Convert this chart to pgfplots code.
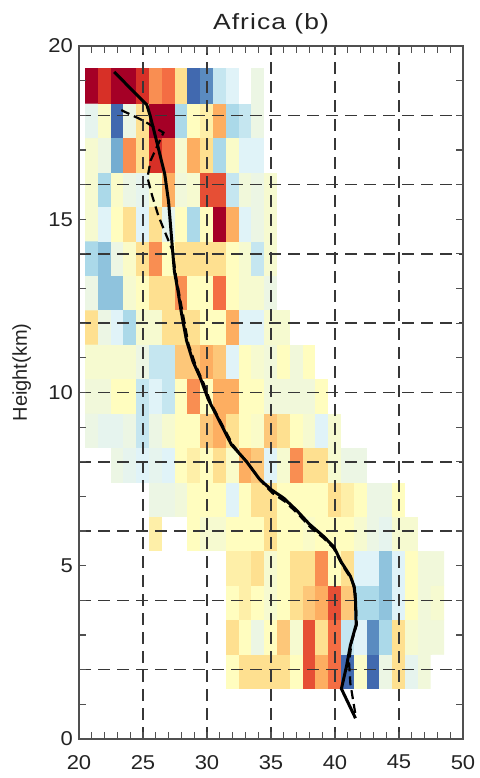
\documentclass[border=0pt]{standalone}
\usepackage{fontspec}
\setmainfont{Liberation Sans}[FakeStretch=1.1]
\newfontfamily\plainsans{Liberation Sans}
\newfontfamily\titlefont{Liberation Sans}[FakeStretch=1.2,LetterSpace=5]
\usepackage{pgfplots}
\usepackage{pgfplotstable}
\pgfplotsset{compat=1.18}
\pgfplotsset{
  colormap={idl}{rgb255=(255,255,255) rgb255=(65,105,175) rgb255=(116,173,209) rgb255=(171,217,233) rgb255=(224,243,248) rgb255=(236,246,228) rgb255=(246,250,208) rgb255=(255,253,191) rgb255=(254,224,144) rgb255=(253,174,97) rgb255=(244,109,67) rgb255=(215,48,39) rgb255=(165,0,38)}
}
\definecolor{axcol}{RGB}{80,80,80}
\definecolor{gridcol}{RGB}{55,55,55}
\definecolor{txtcol}{RGB}{35,35,35}
\pgfplotstableread[row sep=\\]{
x y c\\
21 1.95 0\\ 22 1.95 0\\ 23 1.95 0\\ 24 1.95 0\\ 25 1.95 0\\ 26 1.95 0\\ 27 1.95 0\\ 28 1.95 0\\ 29 1.95 0\\ 30 1.95 0\\ 31 1.95 0\\ 32 1.95 7\\ 33 1.95 8\\ 34 1.95 8\\ 35 1.95 8\\ 36 1.95 8\\ 37 1.95 7\\ 38 1.95 10.5\\ 39 1.95 9\\ 40 1.95 10\\ 41 1.95 1\\ 42 1.95 6.5\\ 43 1.95 1\\ 44 1.95 5\\ 45 1.95 8\\ 46 1.95 4.5\\ 47 1.95 5.5\\ 48 1.95 0\\
21 2.94 0\\ 22 2.94 0\\ 23 2.94 0\\ 24 2.94 0\\ 25 2.94 0\\ 26 2.94 0\\ 27 2.94 0\\ 28 2.94 0\\ 29 2.94 0\\ 30 2.94 0\\ 31 2.94 0\\ 32 2.94 8\\ 33 2.94 7\\ 34 2.94 5\\ 35 2.94 7\\ 36 2.94 8.5\\ 37 2.94 6\\ 38 2.94 10.5\\ 39 2.94 8\\ 40 2.94 10\\ 41 2.94 3.5\\ 42 2.94 4\\ 43 2.94 1.5\\ 44 2.94 3\\ 45 2.94 8\\ 46 2.94 6\\ 47 2.94 5.5\\ 48 2.94 5.5\\
21 3.94 0\\ 22 3.94 0\\ 23 3.94 0\\ 24 3.94 0\\ 25 3.94 0\\ 26 3.94 0\\ 27 3.94 0\\ 28 3.94 0\\ 29 3.94 0\\ 30 3.94 0\\ 31 3.94 0\\ 32 3.94 7\\ 33 3.94 7.5\\ 34 3.94 7\\ 35 3.94 6\\ 36 3.94 7\\ 37 3.94 8\\ 38 3.94 8.5\\ 39 3.94 9\\ 40 3.94 10.5\\ 41 3.94 8.5\\ 42 3.94 3\\ 43 3.94 3\\ 44 3.94 2.5\\ 45 3.94 4\\ 46 3.94 7\\ 47 3.94 5.5\\ 48 3.94 6\\
21 4.93 0\\ 22 4.93 0\\ 23 4.93 0\\ 24 4.93 0\\ 25 4.93 0\\ 26 4.93 0\\ 27 4.93 0\\ 28 4.93 0\\ 29 4.93 0\\ 30 4.93 0\\ 31 4.93 0\\ 32 4.93 7.5\\ 33 4.93 7.5\\ 34 4.93 8\\ 35 4.93 6\\ 36 4.93 7\\ 37 4.93 8\\ 38 4.93 8\\ 39 4.93 9.5\\ 40 4.93 7\\ 41 4.93 8\\ 42 4.93 4\\ 43 4.93 4\\ 44 4.93 2.5\\ 45 4.93 4\\ 46 4.93 7\\ 47 4.93 5.5\\ 48 4.93 5.5\\
21 5.93 0\\ 22 5.93 0\\ 23 5.93 0\\ 24 5.93 0\\ 25 5.93 0\\ 26 5.93 7.5\\ 27 5.93 0\\ 28 5.93 0\\ 29 5.93 7\\ 30 5.93 6\\ 31 5.93 6\\ 32 5.93 7\\ 33 5.93 7\\ 34 5.93 7\\ 35 5.93 8\\ 36 5.93 7\\ 37 5.93 7\\ 38 5.93 6.5\\ 39 5.93 7\\ 40 5.93 7\\ 41 5.93 7\\ 42 5.93 6\\ 43 5.93 5\\ 44 5.93 4.5\\ 45 5.93 6\\ 46 5.93 6\\ 47 5.93 0\\ 48 5.93 0\\
21 6.92 0\\ 22 6.92 0\\ 23 6.92 0\\ 24 6.92 0\\ 25 6.92 0\\ 26 6.92 5\\ 27 6.92 5\\ 28 6.92 5.5\\ 29 6.92 7\\ 30 6.92 7\\ 31 6.92 7\\ 32 6.92 4\\ 33 6.92 7\\ 34 6.92 8\\ 35 6.92 8\\ 36 6.92 7\\ 37 6.92 7\\ 38 6.92 7\\ 39 6.92 7\\ 40 6.92 8\\ 41 6.92 7.5\\ 42 6.92 7\\ 43 6.92 5\\ 44 6.92 5\\ 45 6.92 7\\ 46 6.92 0\\ 47 6.92 0\\ 48 6.92 0\\
21 7.91 0\\ 22 7.91 0\\ 23 7.91 5\\ 24 7.91 4.5\\ 25 7.91 4\\ 26 7.91 4.5\\ 27 7.91 4\\ 28 7.91 7\\ 29 7.91 7.5\\ 30 7.91 7\\ 31 7.91 8\\ 32 7.91 6.5\\ 33 7.91 9\\ 34 7.91 8.5\\ 35 7.91 4\\ 36 7.91 6\\ 37 7.91 9.5\\ 38 7.91 8\\ 39 7.91 8\\ 40 7.91 6\\ 41 7.91 5\\ 42 7.91 5\\ 43 7.91 0\\ 44 7.91 0\\ 45 7.91 0\\ 46 7.91 0\\ 47 7.91 0\\ 48 7.91 0\\
21 8.91 5\\ 22 8.91 4.5\\ 23 8.91 4.5\\ 24 8.91 5\\ 25 8.91 3.5\\ 26 8.91 5\\ 27 8.91 6\\ 28 8.91 7\\ 29 8.91 7\\ 30 8.91 8.5\\ 31 8.91 9\\ 32 8.91 8\\ 33 8.91 7\\ 34 8.91 6.5\\ 35 8.91 8.5\\ 36 8.91 8\\ 37 8.91 7\\ 38 8.91 6\\ 39 8.91 4\\ 40 8.91 6\\ 41 8.91 0\\ 42 8.91 0\\ 43 8.91 0\\ 44 8.91 0\\ 45 8.91 0\\ 46 8.91 0\\ 47 8.91 0\\ 48 8.91 0\\
21 9.90 5.5\\ 22 9.90 5.5\\ 23 9.90 7\\ 24 9.90 7\\ 25 9.90 3.5\\ 26 9.90 4\\ 27 9.90 3.5\\ 28 9.90 7\\ 29 9.90 9.5\\ 30 9.90 7\\ 31 9.90 9\\ 32 9.90 9\\ 33 9.90 7\\ 34 9.90 7\\ 35 9.90 5.5\\ 36 9.90 5.5\\ 37 9.90 5.5\\ 38 9.90 5.5\\ 39 9.90 7\\ 40 9.90 0\\ 41 9.90 0\\ 42 9.90 0\\ 43 9.90 0\\ 44 9.90 0\\ 45 9.90 0\\ 46 9.90 0\\ 47 9.90 0\\ 48 9.90 0\\
21 10.90 6\\ 22 10.90 6\\ 23 10.90 6\\ 24 10.90 6\\ 25 10.90 5\\ 26 10.90 3.5\\ 27 10.90 3.5\\ 28 10.90 8.5\\ 29 10.90 8.5\\ 30 10.90 9\\ 31 10.90 8.5\\ 32 10.90 4\\ 33 10.90 7\\ 34 10.90 6\\ 35 10.90 5.5\\ 36 10.90 7\\ 37 10.90 5.5\\ 38 10.90 7\\ 39 10.90 0\\ 40 10.90 0\\ 41 10.90 0\\ 42 10.90 0\\ 43 10.90 0\\ 44 10.90 0\\ 45 10.90 0\\ 46 10.90 0\\ 47 10.90 0\\ 48 10.90 0\\
21 11.89 8\\ 22 11.89 5\\ 23 11.89 4\\ 24 11.89 3\\ 25 11.89 6\\ 26 11.89 6\\ 27 11.89 8\\ 28 11.89 8\\ 29 11.89 8\\ 30 11.89 7\\ 31 11.89 7\\ 32 11.89 9\\ 33 11.89 4\\ 34 11.89 4\\ 35 11.89 6\\ 36 11.89 6\\ 37 11.89 0\\ 38 11.89 0\\ 39 11.89 0\\ 40 11.89 0\\ 41 11.89 0\\ 42 11.89 0\\ 43 11.89 0\\ 44 11.89 0\\ 45 11.89 0\\ 46 11.89 0\\ 47 11.89 0\\ 48 11.89 0\\
21 12.88 5\\ 22 12.88 2.5\\ 23 12.88 2.5\\ 24 12.88 6\\ 25 12.88 7\\ 26 12.88 8\\ 27 12.88 8\\ 28 12.88 9.5\\ 29 12.88 7\\ 30 12.88 7\\ 31 12.88 10\\ 32 12.88 7\\ 33 12.88 6\\ 34 12.88 6\\ 35 12.88 5\\ 36 12.88 0\\ 37 12.88 0\\ 38 12.88 0\\ 39 12.88 0\\ 40 12.88 0\\ 41 12.88 0\\ 42 12.88 0\\ 43 12.88 0\\ 44 12.88 0\\ 45 12.88 0\\ 46 12.88 0\\ 47 12.88 0\\ 48 12.88 0\\
21 13.88 3\\ 22 13.88 2.5\\ 23 13.88 5\\ 24 13.88 6.5\\ 25 13.88 8\\ 26 13.88 9.5\\ 27 13.88 7\\ 28 13.88 8\\ 29 13.88 8\\ 30 13.88 8\\ 31 13.88 8\\ 32 13.88 7\\ 33 13.88 6\\ 34 13.88 3.5\\ 35 13.88 6\\ 36 13.88 0\\ 37 13.88 0\\ 38 13.88 0\\ 39 13.88 0\\ 40 13.88 0\\ 41 13.88 0\\ 42 13.88 0\\ 43 13.88 0\\ 44 13.88 0\\ 45 13.88 0\\ 46 13.88 0\\ 47 13.88 0\\ 48 13.88 0\\
21 14.87 6\\ 22 14.87 4\\ 23 14.87 7\\ 24 14.87 8\\ 25 14.87 4\\ 26 14.87 8\\ 27 14.87 4.5\\ 28 14.87 7\\ 29 14.87 3\\ 30 14.87 7\\ 31 14.87 12\\ 32 14.87 9\\ 33 14.87 4\\ 34 14.87 5\\ 35 14.87 6\\ 36 14.87 0\\ 37 14.87 0\\ 38 14.87 0\\ 39 14.87 0\\ 40 14.87 0\\ 41 14.87 0\\ 42 14.87 0\\ 43 14.87 0\\ 44 14.87 0\\ 45 14.87 0\\ 46 14.87 0\\ 47 14.87 0\\ 48 14.87 0\\
21 15.87 6\\ 22 15.87 3\\ 23 15.87 6.5\\ 24 15.87 5\\ 25 15.87 4.5\\ 26 15.87 6.5\\ 27 15.87 9\\ 28 15.87 5.5\\ 29 15.87 6\\ 30 15.87 10.5\\ 31 15.87 10.5\\ 32 15.87 3.5\\ 33 15.87 5.5\\ 34 15.87 5\\ 35 15.87 6\\ 36 15.87 0\\ 37 15.87 0\\ 38 15.87 0\\ 39 15.87 0\\ 40 15.87 0\\ 41 15.87 0\\ 42 15.87 0\\ 43 15.87 0\\ 44 15.87 0\\ 45 15.87 0\\ 46 15.87 0\\ 47 15.87 0\\ 48 15.87 0\\
21 16.86 6\\ 22 16.86 5\\ 23 16.86 2\\ 24 16.86 9.5\\ 25 16.86 8\\ 26 16.86 11\\ 27 16.86 10\\ 28 16.86 6\\ 29 16.86 9\\ 30 16.86 8\\ 31 16.86 3\\ 32 16.86 6.5\\ 33 16.86 4\\ 34 16.86 4\\ 35 16.86 0\\ 36 16.86 0\\ 37 16.86 0\\ 38 16.86 0\\ 39 16.86 0\\ 40 16.86 0\\ 41 16.86 0\\ 42 16.86 0\\ 43 16.86 0\\ 44 16.86 0\\ 45 16.86 0\\ 46 16.86 0\\ 47 16.86 0\\ 48 16.86 0\\
21 17.85 4.5\\ 22 17.85 6.5\\ 23 17.85 1\\ 24 17.85 5\\ 25 17.85 8\\ 26 17.85 12\\ 27 17.85 12\\ 28 17.85 3\\ 29 17.85 7\\ 30 17.85 7.5\\ 31 17.85 9\\ 32 17.85 3\\ 33 17.85 3.5\\ 34 17.85 5\\ 35 17.85 0\\ 36 17.85 0\\ 37 17.85 0\\ 38 17.85 0\\ 39 17.85 0\\ 40 17.85 0\\ 41 17.85 0\\ 42 17.85 0\\ 43 17.85 0\\ 44 17.85 0\\ 45 17.85 0\\ 46 17.85 0\\ 47 17.85 0\\ 48 17.85 0\\
21 18.85 12\\ 22 18.85 11\\ 23 18.85 12\\ 24 18.85 12\\ 25 18.85 11\\ 26 18.85 9.5\\ 27 18.85 10\\ 28 18.85 8\\ 29 18.85 1\\ 30 18.85 1.5\\ 31 18.85 3.5\\ 32 18.85 4\\ 33 18.85 0\\ 34 18.85 5\\ 35 18.85 0\\ 36 18.85 0\\ 37 18.85 0\\ 38 18.85 0\\ 39 18.85 0\\ 40 18.85 0\\ 41 18.85 0\\ 42 18.85 0\\ 43 18.85 0\\ 44 18.85 0\\ 45 18.85 0\\ 46 18.85 0\\ 47 18.85 0\\ 48 18.85 0\\
}\cells
\begin{document}
\fontsize{10bp}{12bp}\selectfont
\begin{tikzpicture}
\begin{axis}[
  set layers,
  anchor=south west, at={(0,0)},
  scale only axis, width=192bp, height=346.5bp,
  xmin=20, xmax=50, ymin=0, ymax=20,
  xtick={20,25,...,50}, ytick={0,5,...,20},
  minor x tick num=4, minor y tick num=4,
  extra y ticks={2,4,...,18}, extra y tick labels={},
  extra y tick style={grid=major, major tick length=0pt},
  xmajorgrids=true,
  grid style={gridcol, line width=0.75bp, dash pattern=on 6bp off 3.5bp},
  tick pos=both,
  tick align=inside, major tick length=3.5bp, minor tick length=3.5bp,
  every tick/.style={axcol, line width=0.6bp},
  axis line style={axcol, line width=0.8bp},
  /pgf/number format/assume math mode=true,
  ticklabel style={font=\fontsize{10bp}{12bp}\selectfont, text=txtcol},
  xticklabel style={yshift=-4.5bp},
  yticklabel style={xshift=0.5bp},
  colormap name=idl, point meta min=0, point meta max=12,
  title={\titlefont Africa (b)},
  every axis title/.style={at={(axis description cs:0.5,1)}, anchor=base, yshift=8bp, text=txtcol, font=\fontsize{11bp}{13bp}\selectfont},
  ylabel={\plainsans Height(km)},
  every axis y label/.style={at={(axis description cs:-0.149,0.529)}, rotate=90, anchor=center, text=txtcol, font=\fontsize{10bp}{12bp}\selectfont},
]
\addplot[matrix plot*, on layer=axis background, mesh/cols=28, point meta=explicit] table[x=x, y=y, meta=c] {\cells};
\addplot[black, line width=1.1bp, dash pattern=on 4.5bp off 2.5bp] coordinates {
(23.3,18.15) (25.0,17.85) (26.6,17.5) (25.6,16.7) (25.35,16.2) (25.7,15.7) (26.2,15.1) (26.75,14.6) (27.3,14.1) (27.6,13.3) (28.1,12.3) (28.55,11.4) (29.1,10.8) (29.7,10.3) (30.3,9.7) (31.0,9.2) (32.0,8.5) (33.2,7.95) (34.2,7.45) (35.1,7.1) (36.1,6.85) (37.1,6.5) (38.1,6.1) (39.1,5.8) (39.9,5.5) (40.6,5.0) (41.3,4.6) (41.6,4.2) (41.7,3.3) (41.3,2.8) (41.1,2.2) (41.2,1.6) (41.6,0.7)
};
\addplot[black, line width=1.5bp] coordinates {
(22.75,19.25) (25.3,18.3) (25.55,18.0) (26.1,17.2) (26.7,16.3) (27.0,15.5) (27.2,14.6) (27.45,13.5) (27.7,13.0) (28.0,12.3) (28.4,11.5) (28.9,10.9) (29.5,10.4) (30.1,9.8) (30.8,9.3) (31.9,8.5) (33.1,8.0) (34.1,7.5) (35.0,7.2) (36.0,6.95) (37.0,6.6) (38.0,6.2) (39.1,5.85) (39.9,5.55) (40.5,5.1) (41.2,4.7) (41.5,4.4) (41.6,4.0) (41.65,3.3) (41.2,2.7) (40.9,2.1) (40.5,1.45) (41.6,0.6)
};
\end{axis}
\pgfresetboundingbox
\path[use as bounding box] (-39.5bp,-19.5bp) rectangle (200.5bp,369.5bp);
\end{tikzpicture}
\end{document}
